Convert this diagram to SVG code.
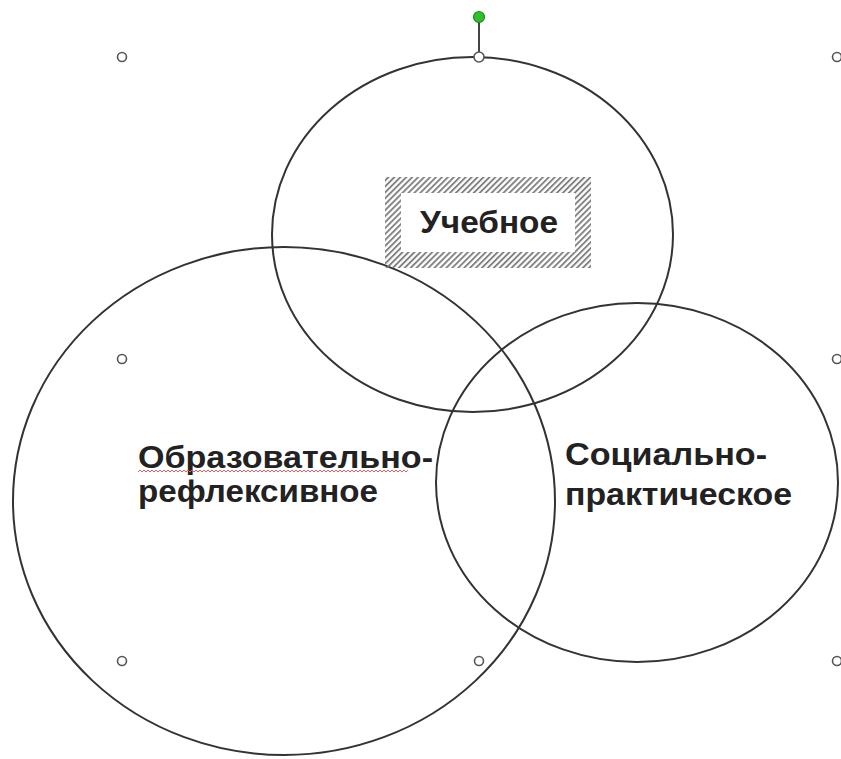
<svg xmlns="http://www.w3.org/2000/svg" width="841" height="759" viewBox="0 0 841 759">
<defs>
<style>
.ell{fill:none;stroke:#333;stroke-width:2}
.lbl{font-family:"Liberation Sans",Arial,sans-serif;font-size:32px;font-weight:bold;fill:#222}
.hdl{fill:#fff;stroke:#555;stroke-width:1.6}
</style>
<pattern id="hatch" patternUnits="userSpaceOnUse" width="4.2" height="4.2" patternTransform="rotate(45)">
<line x1="1" y1="0" x2="1" y2="4.2" stroke="#7a7a7a" stroke-width="1.8"/>
</pattern>
<pattern id="wave" patternUnits="userSpaceOnUse" x="138" y="469" width="4" height="4">
<path d="M0,3 L2,1 L4,3" fill="none" stroke="#e06060" stroke-width="1"/>
</pattern>
</defs>
<rect width="841" height="759" fill="#fff"/>
<g id="circle-top">
<ellipse class="ell" cx="472.5" cy="234.5" rx="200.5" ry="177.5"/>
</g>
<g id="circle-left">
<ellipse class="ell" cx="284" cy="501" rx="271" ry="254"/>
</g>
<g id="circle-right">
<ellipse class="ell" cx="637" cy="482.5" rx="201" ry="179.5"/>
</g>
<g id="node-uchebnoe">
<path d="M385,177 H591 V268 H385 Z M401,193 V252 H575 V193 Z" fill="url(#hatch)" fill-rule="evenodd"/>
<text class="lbl" x="420" y="233" textLength="138" lengthAdjust="spacingAndGlyphs">Учебное</text>
</g>
<g id="node-obraz">
<text class="lbl" x="138" y="468" textLength="295" lengthAdjust="spacingAndGlyphs">Образовательно-</text>
<text class="lbl" x="138" y="502" textLength="240" lengthAdjust="spacingAndGlyphs">рефлексивное</text>
<rect x="138" y="469" width="270" height="4" fill="url(#wave)"/>
</g>
<g id="node-social">
<text class="lbl" x="565" y="465" textLength="202" lengthAdjust="spacingAndGlyphs">Социально-</text>
<text class="lbl" x="565" y="505" textLength="227" lengthAdjust="spacingAndGlyphs">практическое</text>
</g>
<g id="connectors">
<line x1="479" y1="22" x2="479" y2="52" stroke="#444" stroke-width="2"/>
</g>
<g id="handles">
<circle cx="479" cy="17" r="5.5" fill="#2fbf2f" stroke="#1d8a1d" stroke-width="1.2"/>
<circle class="hdl" cx="479" cy="57" r="5"/>
<circle class="hdl" cx="122" cy="57" r="4.5"/>
<circle class="hdl" cx="837" cy="57" r="4.5"/>
<circle class="hdl" cx="122" cy="359" r="4.5"/>
<circle class="hdl" cx="837" cy="359" r="4.5"/>
<circle class="hdl" cx="122" cy="661" r="4.5"/>
<circle class="hdl" cx="479" cy="661" r="4.5"/>
<circle class="hdl" cx="837" cy="661" r="4.5"/>
</g>
</svg>
